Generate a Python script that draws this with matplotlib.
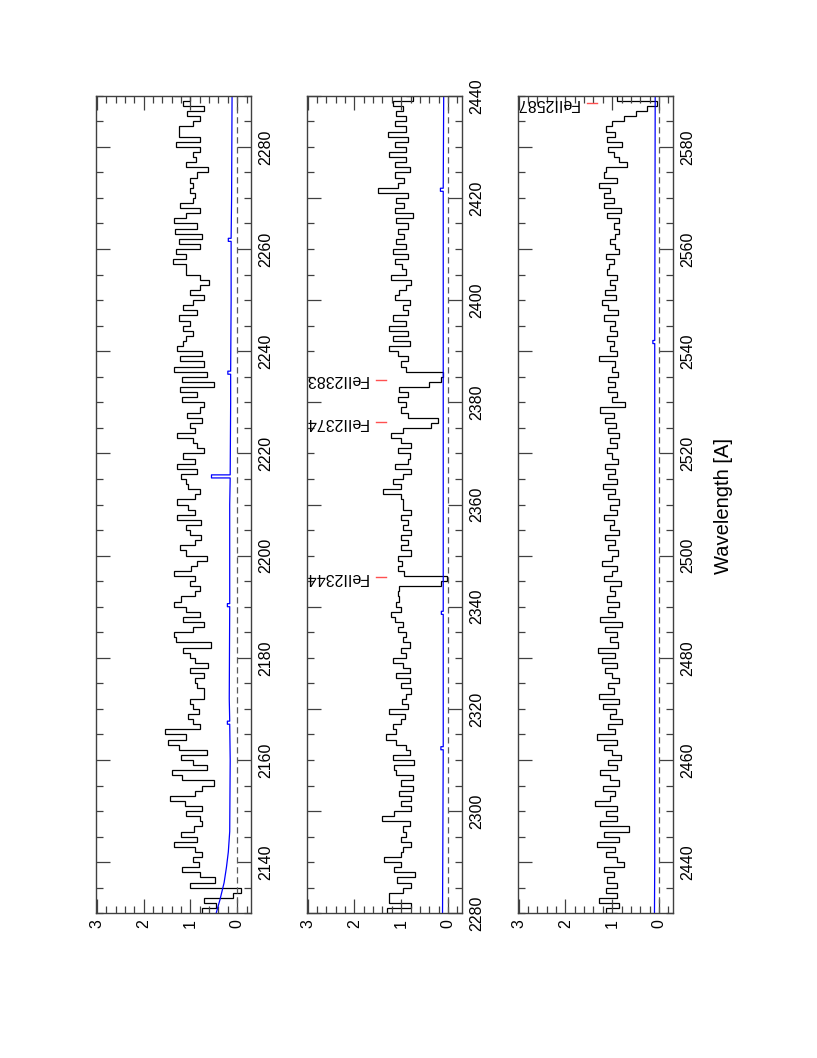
import numpy as np
import matplotlib
matplotlib.use("Agg")
import matplotlib.pyplot as plt
from matplotlib.ticker import MultipleLocator

plt.rcParams["font.family"] = ["Liberation Sans", "DejaVu Sans"]

# normalised flux, 1 A bins starting at 2130 A
wave_start = 2130
flux_a = [  # 2130-2289
    0.75, 0.45, 0.70, 0.08, -0.09, 1.02, 0.48, 0.80, 1.18, 0.82,
    0.95, 0.75, 0.90, 1.36, 0.85, 1.20, 0.92, 0.75, 0.80, 1.10,
    0.75, 1.12, 1.43, 0.90, 0.76, 0.50, 1.18, 1.40, 0.65, 0.95,
    1.20, 0.65, 1.25, 1.47, 1.10, 1.54, 0.80, 0.95, 1.05, 0.82,
    0.95, 1.00, 0.72, 0.70, 0.85, 0.90, 0.72, 1.00, 0.62, 0.90,
    1.00, 1.15, 0.55, 1.30, 1.36, 0.95, 0.70, 1.15, 0.80, 1.10,
    1.36, 1.20, 0.90, 0.80, 1.00, 0.90, 1.36, 0.98, 0.85, 0.65,
    1.10, 1.22, 0.90, 0.78, 1.00, 1.10, 0.78, 1.28, 0.90, 1.05,
    1.29, 0.90, 0.80, 1.05, 1.10, 1.20, 0.85, 1.29, 0.90, 1.15,
    0.72, 0.85, 0.95, 1.29, 0.90, 1.00, 0.75, 1.08, 0.80, 0.72,
    1.18, 0.85, 1.22, 0.50, 1.19, 0.65, 1.36, 0.70, 1.22, 0.76,
    1.29, 1.15, 1.10, 0.95, 1.15, 1.00, 1.25, 0.85, 1.15, 0.95,
    0.72, 1.00, 0.80, 0.60, 0.80, 1.10, 1.10, 1.38, 1.10, 1.30,
    0.80, 1.25, 0.76, 1.33, 0.85, 1.36, 1.10, 0.80, 1.22, 0.95,
    0.90, 1.00, 0.95, 1.00, 0.85, 0.62, 1.10, 0.88, 0.95, 0.80,
    1.30, 0.80, 1.25, 1.25, 0.95, 0.80, 1.08, 0.70, 1.15, 1.00,
]
flux_b = [  # 2290-2439
    1.36, 1.00, 0.96, 0.80, 1.00, 0.89, 0.96, 0.82, 1.41, 1.15,
    0.80, 1.00, 0.80, 1.04, 0.75, 1.00, 0.75, 1.10, 1.15, 0.72,
    1.18, 0.82, 0.90, 1.10, 1.32, 1.10, 1.18, 1.00, 0.92, 1.25,
    0.86, 0.98, 0.89, 0.80, 1.00, 0.82, 1.10, 0.82, 0.96, 1.18,
    0.89, 1.00, 0.82, 0.96, 0.90, 1.07, 0.95, 1.14, 1.21, 1.00,
    1.10, 1.05, 1.07, 1.05, 0.14, 0.02, 0.93, 1.07, 0.98, 1.07,
    0.79, 1.00, 0.85, 1.00, 0.78, 0.96, 0.85, 1.00, 0.80, 0.95,
    0.95, 1.00, 1.39, 1.00, 1.18, 0.95, 0.80, 1.14, 0.86, 0.82,
    1.07, 0.80, 1.00, 1.21, 0.95, 0.36, 0.21, 0.86, 1.00, 0.90,
    1.07, 0.86, 1.04, 0.40, 0.15, 0.10, 0.90, 1.00, 0.86, 1.07,
    1.25, 0.82, 1.18, 0.86, 1.25, 0.89, 1.18, 0.86, 0.96, 0.82,
    1.14, 1.04, 0.90, 0.79, 1.21, 0.89, 0.98, 1.14, 0.86, 1.18,
    0.90, 1.10, 0.93, 1.07, 0.86, 1.10, 0.75, 1.14, 0.93, 1.10,
    0.86, 1.50, 1.07, 0.93, 1.14, 0.82, 1.14, 0.89, 1.25, 0.89,
    1.14, 0.86, 1.29, 0.90, 1.14, 0.89, 1.11, 0.96, 1.18, 0.75,
]
flux_c = [  # 2440-2589
    0.90, 1.14, 0.95, 1.32, 0.86, 1.18, 0.64, 1.25, 0.90, 1.14,
    0.90, 1.36, 1.04, 0.93, 1.20, 0.86, 1.04, 1.25, 0.90, 1.10,
    0.82, 1.00, 1.18, 0.90, 1.32, 0.95, 1.10, 0.80, 1.05, 0.92,
    1.20, 0.85, 1.28, 0.96, 1.10, 0.85, 1.00, 1.15, 0.90, 1.22,
    0.95, 1.30, 0.88, 1.05, 0.90, 1.15, 0.80, 1.25, 0.95, 1.08,
    0.85, 1.12, 0.94, 1.05, 0.82, 1.18, 1.00, 0.90, 1.22, 1.00,
    0.88, 1.10, 0.95, 1.15, 0.85, 1.05, 0.96, 1.18, 0.90, 1.04,
    0.86, 1.10, 0.95, 1.20, 0.90, 1.08, 0.94, 1.15, 0.88, 1.00,
    1.12, 0.90, 1.05, 0.85, 1.10, 0.92, 1.15, 0.96, 1.25, 0.72,
    1.00, 0.90, 1.08, 0.95, 1.10, 0.88, 1.00, 0.93, 1.28, 0.90,
    1.05, 0.96, 1.12, 0.90, 1.05, 0.95, 1.18, 0.88, 1.10, 1.22,
    0.92, 1.15, 0.95, 1.05, 0.90, 1.12, 1.07, 0.96, 1.14, 0.86,
    0.93, 1.04, 0.93, 0.86, 0.96, 0.86, 1.11, 0.82, 1.18, 0.96,
    1.18, 1.05, 1.29, 0.89, 1.18, 1.14, 0.68, 0.85, 0.96, 1.10,
    0.79, 1.11, 0.93, 1.14, 1.00, 0.75, 0.50, 0.25, 0.04, 0.90,
]

# error spectrum (wavelength, sigma) nodes
err_nodes = [
    (2130, 0.45), (2131, 0.42), (2132.6, 0.37), (2136, 0.28), (2139, 0.23),
    (2142, 0.19), (2146, 0.16), (2160, 0.15), (2167, 0.16), (2167, 0.21),
    (2167.6, 0.21), (2167.6, 0.16), (2172, 0.17), (2190, 0.16), (2190, 0.21),
    (2190.6, 0.21), (2190.6, 0.16), (2210, 0.16), (2215.2, 0.15), (2215.2, 0.55),
    (2215.8, 0.55), (2215.8, 0.15), (2230, 0.14), (2235.5, 0.14), (2235.5, 0.20),
    (2236.1, 0.20), (2236.1, 0.14), (2250, 0.13), (2261.5, 0.13), (2261.5, 0.19),
    (2262.1, 0.19), (2262.1, 0.13), (2270, 0.12), (2290, 0.11), (2312, 0.10),
    (2312, 0.15), (2312.6, 0.15), (2312.6, 0.10), (2338.5, 0.10), (2338.5, 0.14),
    (2339.1, 0.14), (2339.1, 0.10), (2360, 0.10), (2421.3, 0.10), (2421.3, 0.16),
    (2421.9, 0.16), (2421.9, 0.10), (2440, 0.09), (2541.5, 0.09), (2541.5, 0.13),
    (2542.1, 0.13), (2542.1, 0.09), (2590, 0.08),
]

line_names = ["FeII2344", "FeII2374", "FeII2383", "FeII2587"]
line_waves = [2345.8, 2376.1, 2384.4, 2588.5]

panel_ranges = [(2130, 2290), (2280, 2440), (2430, 2590)]
panel_left = [0.1175, 0.3754, 0.6337]

flux = np.array(flux_a + flux_b + flux_c)
edges = wave_start + np.arange(len(flux) + 1)
err_w = [w for w, s in err_nodes]
err_s = [s for w, s in err_nodes]

fig = plt.figure(figsize=(8.17, 10.58), dpi=100)
frame = "0.25"

for left, (lo, hi) in zip(panel_left, panel_ranges):
    ax = fig.add_axes([left, 0.1368, 0.19, 0.7727])
    ax.stairs(flux, edges, orientation="horizontal", baseline=None,
              color="black", lw=0.9)
    ax.plot(err_s, err_w, color="#0000ff", lw=0.9)
    ax.axvline(0, color="0.35", lw=0.9, ls=(0, (5, 3)))

    for name, w in zip(line_names, line_waves):
        if lo <= w <= hi:
            ax.plot([1.32, 1.53], [w, w], color="#ff5050", lw=1)
            ax.text(1.72, w, name, rotation=180, rotation_mode="anchor",
                    ha="left", va="center", fontsize=11.5)

    ax.set_xlim(3.02, -0.3)
    ax.set_ylim(lo, hi)
    ax.xaxis.set_major_locator(MultipleLocator(1))
    ax.xaxis.set_minor_locator(MultipleLocator(0.2))
    ax.yaxis.set_major_locator(MultipleLocator(20))
    ax.yaxis.set_minor_locator(MultipleLocator(5))
    ax.tick_params(which="both", direction="in", top=True, bottom=True,
                   left=True, right=True, labelleft=False, labelright=True,
                   color=frame, width=0.9, labelsize=11.5)
    ax.tick_params(which="major", length=10)
    ax.tick_params(which="minor", length=5)
    ax.tick_params(axis="x", labelrotation=90, pad=4)
    ax.tick_params(axis="y", labelrotation=90, pad=5)
    for lab in ax.get_yticklabels():
        lab.set_va("center")
    for sp in ax.spines.values():
        sp.set_color(frame)
        sp.set_linewidth(1.0)

fig.text(0.885, 0.522, "Wavelength [A]", rotation=90, ha="center",
         va="center", fontsize=14.5)

fig.savefig("out.png", dpi=100)
